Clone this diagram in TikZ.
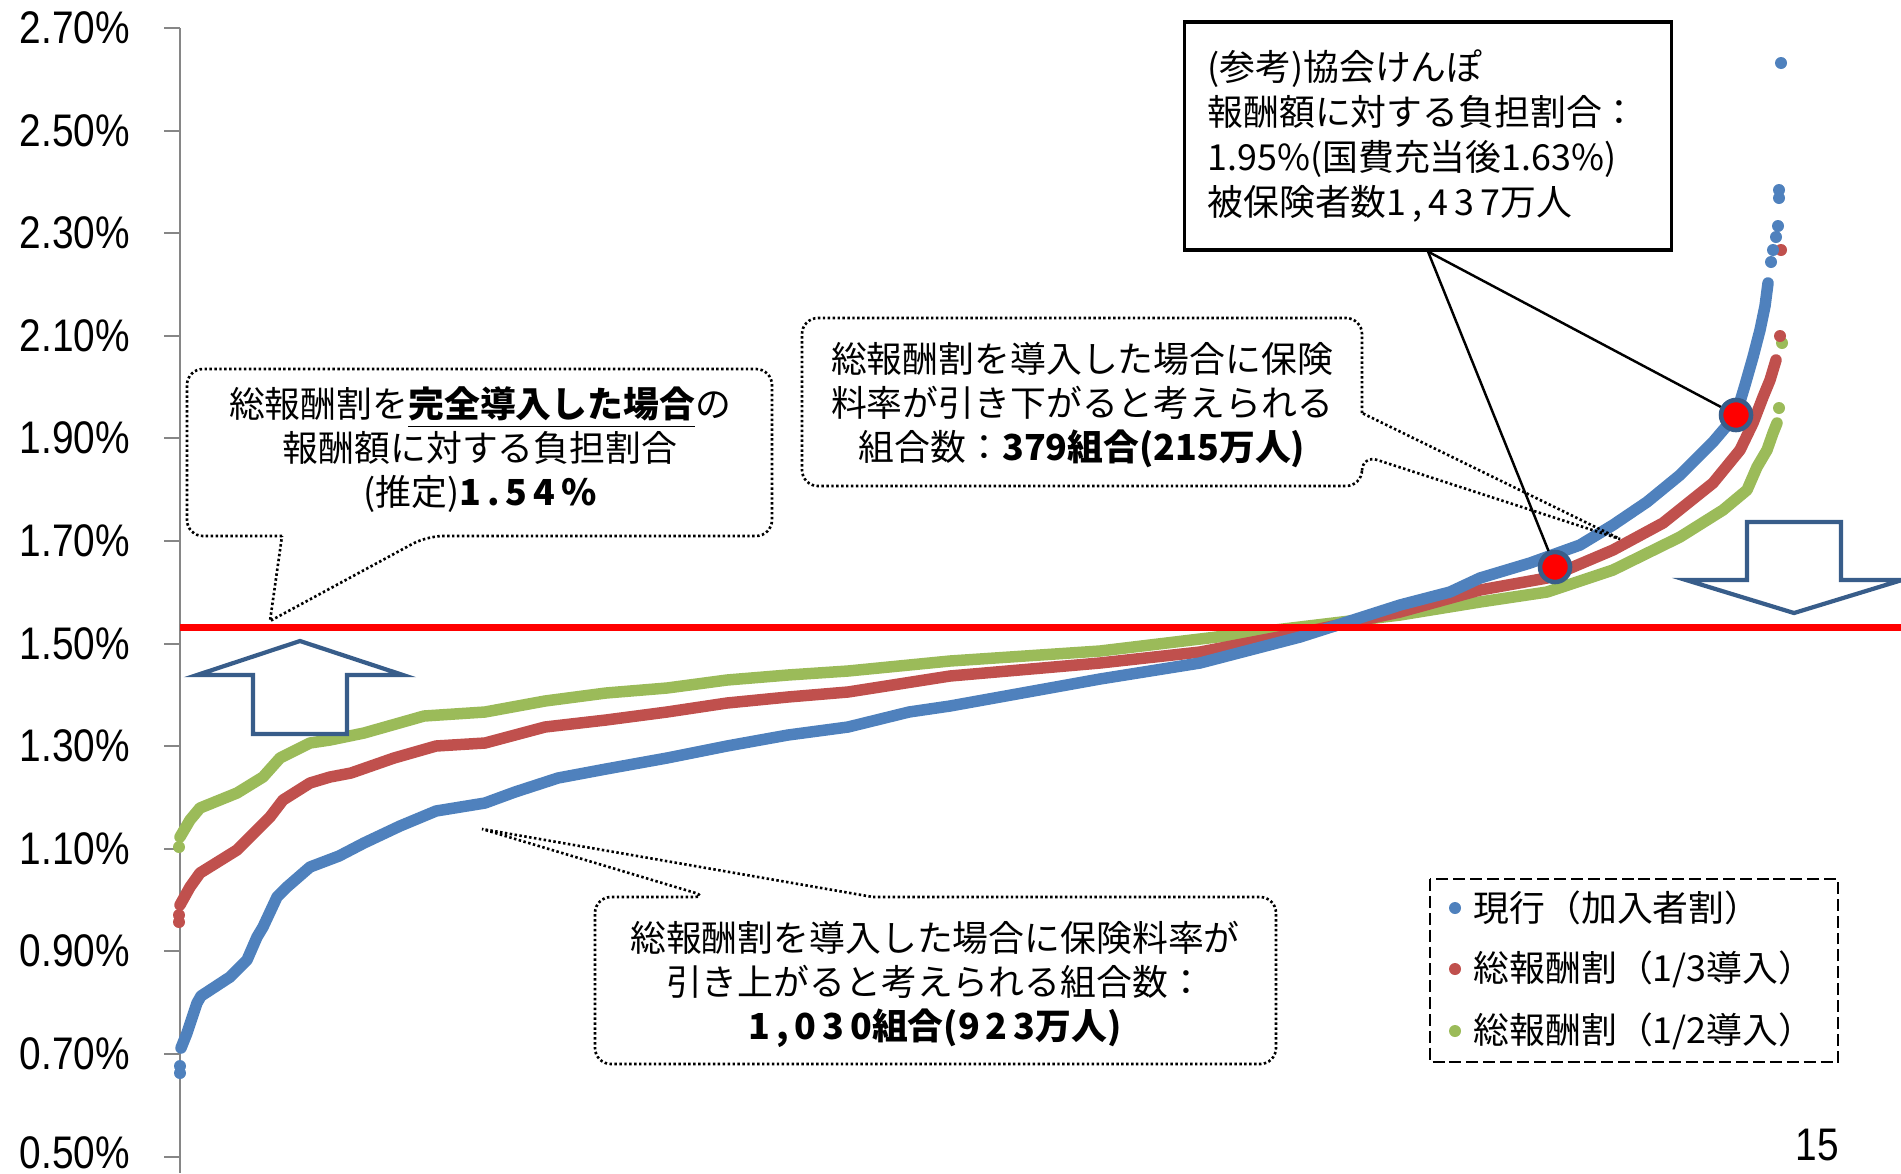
\documentclass[tikz,border=0pt]{standalone}
\usepackage{fontspec}
\setmainfont{Noto Sans CJK JP}
\newfontfamily\numfont{Liberation Sans}[FakeStretch=0.85]
\usepackage{tikz}
\definecolor{curblue}{HTML}{4F81BD}
\definecolor{thirdred}{HTML}{C0504D}
\definecolor{halfgreen}{HTML}{9BBB59}
\definecolor{arrowblue}{HTML}{385D8A}
\definecolor{axisgray}{HTML}{868686}

\begin{document}
\begin{tikzpicture}[x=0.1mm, y=-0.1mm,
  axisline/.style={axisgray, line width=0.6pt},
  ticklabel/.style={anchor=east, inner sep=0pt, xshift=-3.3mm, text=black, font=\numfont\fontsize{13pt}{15pt}\selectfont},
  series/.style={line width=1.15mm, line join=round, line cap=round},
  bigarrow/.style={draw=arrowblue, fill=white, line width=1.2pt},
  callout/.style={dash pattern=on 0.7pt off 0.7pt, line width=0.75pt},
  notetext/.style={align=center, inner sep=0pt, font=\fontsize{10.2pt}{12.5pt}\selectfont},
  marker/.style={circle, fill=red, draw=arrowblue, line width=1.3pt, minimum size=3mm, inner sep=0pt},
  legtext/.style={anchor=west, inner sep=0pt, font=\fontsize{10.2pt}{12pt}\selectfont}]

\useasboundingbox (0,0) rectangle (1901,1173);

% vertical axis
\draw[axisline] (180,28) -- (180,1173);
\draw[axisline] (180,28) -- (164,28) node[ticklabel] {2.70\%};
\draw[axisline] (180,131) -- (164,131) node[ticklabel] {2.50\%};
\draw[axisline] (180,233) -- (164,233) node[ticklabel] {2.30\%};
\draw[axisline] (180,336) -- (164,336) node[ticklabel] {2.10\%};
\draw[axisline] (180,438) -- (164,438) node[ticklabel] {1.90\%};
\draw[axisline] (180,541) -- (164,541) node[ticklabel] {1.70\%};
\draw[axisline] (180,644) -- (164,644) node[ticklabel] {1.50\%};
\draw[axisline] (180,746) -- (164,746) node[ticklabel] {1.30\%};
\draw[axisline] (180,849) -- (164,849) node[ticklabel] {1.10\%};
\draw[axisline] (180,951) -- (164,951) node[ticklabel] {0.90\%};
\draw[axisline] (180,1054) -- (164,1054) node[ticklabel] {0.70\%};
\draw[axisline] (180,1157) -- (164,1157) node[ticklabel, yshift=0.4mm] {0.50\%};

% green: 1/2
\draw[series, halfgreen] plot coordinates {(180,837) (190,820) (200,808) (237,793) (263,777) (280,758) (310,743) (330,740) (364,733) (424,716) (485,712) (545,701) (606,693) (667,688) (727,680) (788,675) (848,671) (950,661) (1100,651) (1200,639) (1300,627) (1400,615) (1480,602) (1547,592) (1613,570) (1680,537) (1723,510) (1747,490) (1757,467) (1767,450) (1773,433) (1777,423)};
\fill[halfgreen] (179,847) circle (0.6mm);
\fill[halfgreen] (1779,408) circle (0.6mm);
\fill[halfgreen] (1782,343) circle (0.6mm);

% red: 1/3
\draw[series, thirdred] plot coordinates {(180,905) (190,887) (200,873) (237,850) (260,827) (270,817) (283,800) (310,783) (330,777) (351,773) (394,758) (436,746) (485,743) (545,727) (606,720) (667,712) (727,703) (788,697) (848,692) (950,676) (1100,663) (1200,652) (1300,633) (1400,612) (1480,590) (1547,578) (1613,550) (1663,523) (1713,483) (1740,450) (1753,423) (1763,397) (1770,380) (1776,360)};
\fill[thirdred] (179,922) circle (0.6mm);
\fill[thirdred] (179,915) circle (0.6mm);
\fill[thirdred] (1780,336) circle (0.6mm);
\fill[thirdred] (1781,250) circle (0.6mm);

% blue: current
\draw[series, curblue] plot coordinates {(181,1048) (187,1033) (197,1003) (201,996) (230,977) (247,960) (257,937) (263,927) (277,897) (287,887) (310,867) (339,856) (364,843) (400,826) (436,811) (485,803) (515,792) (558,778) (606,769) (667,758) (727,746) (788,735) (848,727) (909,712) (950,706) (1000,697) (1100,679) (1200,663) (1300,637) (1350,621) (1400,605) (1450,592) (1480,578) (1530,563) (1580,545) (1613,525) (1647,502) (1680,475) (1713,442) (1736,415) (1745,385) (1753,357) (1760,330) (1765,306) (1768,283)};
\fill[curblue] (180,1073) circle (0.6mm);
\fill[curblue] (180,1066) circle (0.6mm);
\fill[curblue] (1771,262) circle (0.6mm);
\fill[curblue] (1773,250) circle (0.6mm);
\fill[curblue] (1776,237) circle (0.6mm);
\fill[curblue] (1778,226) circle (0.6mm);
\fill[curblue] (1779,198) circle (0.6mm);
\fill[curblue] (1779,190) circle (0.6mm);
\fill[curblue] (1781,63) circle (0.6mm);

% 1.54% line
\draw[red, line width=0.7mm] (180,627) -- (1901,627);

% up / down arrows
\draw[bigarrow] (300,641) -- (403,675) -- (347,675) -- (347,734) -- (253,734) -- (253,675) -- (197,675) -- cycle;
\draw[bigarrow] (1747,522) -- (1841,522) -- (1841,580) -- (1902,580) -- (1794,613) -- (1686,580) -- (1747,580) -- cycle;

% callouts
\draw[callout] (282,536) [rounded corners=1.6mm] -- (187,536) -- (187,369) -- (772,369) -- (772,536) -- (427,536) [sharp corners] -- (270,621) -- cycle;
\node[notetext] (fullnote) at (480,450) {総報酬割を\textbf{\underline{完全導入した場合}}の\\報酬額に対する負担割合\\(推定)\textbf{1\,.\,5\,4\,\%}};

\draw[callout] (1362,413) [rounded corners=1.6mm] -- (1362,318) -- (802,318) -- (802,486) -- (1362,486) -- (1362,455) [sharp corners] -- (1620,539) -- cycle;
\node[notetext] (downnote) at (1082,405) {総報酬割を導入した場合に保険\\料率が引き下がると考えられる\\組合数：\textbf{379組合(215万人)}};

\draw[callout] (873,897) [rounded corners=1.6mm] -- (1276,897) -- (1276,1064) -- (595,1064) -- (595,897) -- (709,897) [sharp corners] -- (482,829) -- cycle;
\node[notetext] (upnote) at (935,984) {総報酬割を導入した場合に保険料率が\\引き上がると考えられる組合数：\\\textbf{1\,,\,0\,3\,0組合(9\,2\,3万人)}};

% kyokai kenpo reference
\node[draw, line width=0.9pt, minimum width=48.7mm, minimum height=22.8mm, text width=44.1mm, inner xsep=2.3mm, inner ysep=0pt, align=left, font=\fontsize{10.2pt}{12.8pt}\selectfont] (kyokai) at (1428,136) {(参考)協会けんぽ\\報酬額に対する負担割合：\\1.95\%(国費充当後1.63\%)\\被保険者数1\,,\,4\,3\,7万人};
\node[marker] (mkLow) at (1555,567) {};
\node[marker] (mkHigh) at (1736,415) {};
\draw[line width=0.7pt] (kyokai.south) -- (mkLow);
\draw[line width=0.7pt] (kyokai.south) -- (mkHigh);

% legend
\draw[dash pattern=on 3.4pt off 1.4pt, line width=0.75pt] (1430,879) rectangle (1838,1062);
\fill[curblue] (1455,908) circle (0.6mm);
\node[legtext] (lgcur) at (1473,908) {現行（加入者割）};
\fill[thirdred] (1455,969) circle (0.6mm);
\node[legtext] (lgthird) at (1473,969) {総報酬割（1/3導入）};
\fill[halfgreen] (1455,1031) circle (0.6mm);
\node[legtext] (lghalf) at (1473,1031) {総報酬割（1/2導入）};

\node[anchor=base west, inner sep=0pt, font=\numfont\fontsize{13pt}{15pt}\selectfont] (pageno) at (1795,1160) {15};
\end{tikzpicture}
\end{document}
